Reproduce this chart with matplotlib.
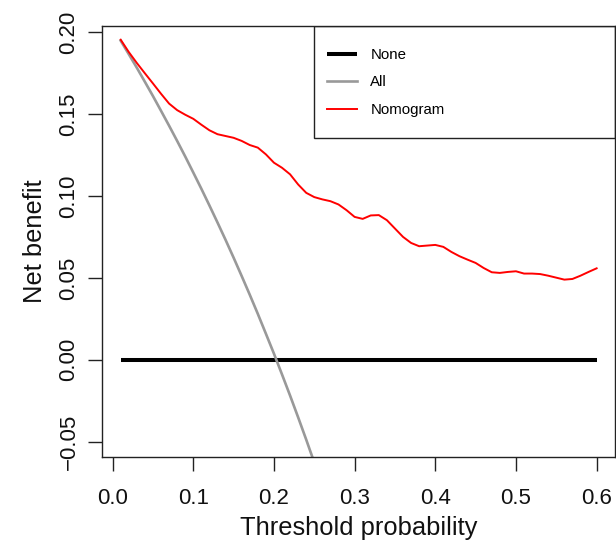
import numpy as np
import matplotlib
matplotlib.use("Agg")
from matplotlib import pyplot as plt
from matplotlib.patches import Rectangle

plt.rcParams['font.family'] = ['Liberation Sans', 'DejaVu Sans']

# threshold probabilities (0.01 .. 0.60)
thresholds = [round(0.01 * k, 2) for k in range(1, 61)]

# net benefit of the nomogram
nomogram = [0.1955, 0.1880, 0.1813, 0.1750, 0.1688, 0.1625, 0.1565, 0.1525, 0.1497, 0.1472,
            0.1436, 0.1402, 0.1378, 0.1367, 0.1356, 0.1337, 0.1312, 0.1296, 0.1255, 0.1204,
            0.1173, 0.1133, 0.1071, 0.1020, 0.0994, 0.0980, 0.0969, 0.0949, 0.0914, 0.0873,
            0.0861, 0.0882, 0.0884, 0.0853, 0.0802, 0.0751, 0.0714, 0.0694, 0.0698, 0.0702,
            0.0690, 0.0659, 0.0633, 0.0612, 0.0592, 0.0561, 0.0535, 0.0531, 0.0537, 0.0541,
            0.0527, 0.0527, 0.0524, 0.0514, 0.0502, 0.0490, 0.0494, 0.0514, 0.0537, 0.0559]

# treat-all curve, only the part visible inside the plot region
all_thresholds = [0.01, 0.02, 0.03, 0.04, 0.05, 0.06, 0.07, 0.08, 0.09, 0.10, 0.11, 0.12, 0.13,
                  0.14, 0.15, 0.16, 0.17, 0.18, 0.19, 0.20, 0.21, 0.22, 0.23, 0.24, 0.25, 0.26]
treat_all = [0.1949, 0.1867, 0.1784, 0.1698, 0.1611, 0.1521, 0.1430, 0.1337, 0.1242, 0.1144,
             0.1045, 0.0943, 0.0839, 0.0733, 0.0624, 0.0512, 0.0398, 0.0281, 0.0160, 0.0038,
             -0.0089, -0.0218, -0.0351, -0.0487, -0.0627, -0.0770]

treat_none = [0.0] * len(thresholds)

x_ticks = [0.0, 0.1, 0.2, 0.3, 0.4, 0.5, 0.6]
y_ticks = [-0.05, 0.00, 0.05, 0.10, 0.15, 0.20]

fig = plt.figure(figsize=(6.16, 5.43), dpi=100)
ax = fig.add_axes([0.165, 0.1575, 0.833, 0.795])

ax.plot(thresholds, treat_none, color='black', lw=2.9, solid_capstyle='butt', label='None')
ax.plot(all_thresholds, treat_all, color='#999999', lw=1.9, label='All')
ax.plot(thresholds, nomogram, color='#ff0000', lw=1.4, label='Nomogram')

ax.set_xlim(-0.0136, 0.6225)
ax.set_ylim(-0.0596, 0.204)

ax.set_xticks(x_ticks)
ax.set_xticklabels(["%.1f" % v for v in x_ticks])
ax.set_yticks(y_ticks)
ax.set_yticklabels([("%.2f" % v).replace('-', '\u2212') for v in y_ticks],
                   rotation=90, va='center')

ax.tick_params(axis='both', direction='out', length=10, width=1.0, labelsize=16,
               color='#222222', labelcolor='#111111')
ax.tick_params(axis='x', pad=12)
ax.tick_params(axis='y', pad=6)

for s in ax.spines.values():
    s.set_linewidth(1.0)
    s.set_color('#222222')

ax.set_xlabel('Threshold probability', fontsize=18.4, labelpad=5, color='#111111')
ax.set_ylabel('Net benefit', fontsize=18.4, labelpad=8, color='#111111')

# legend box in the top right corner, R style
ax.add_patch(Rectangle((0.413, 0.739), 0.587, 0.261, transform=ax.transAxes,
                       fill=False, edgecolor='#222222', lw=1.0, zorder=5))
leg = ax.legend(loc='upper left', bbox_to_anchor=(0.439, 0.949), frameon=False,
                fontsize=10.8, handlelength=2.0, borderpad=0, labelspacing=0.9,
                handletextpad=0.9, borderaxespad=0)

fig.savefig('out.png', dpi=100)
